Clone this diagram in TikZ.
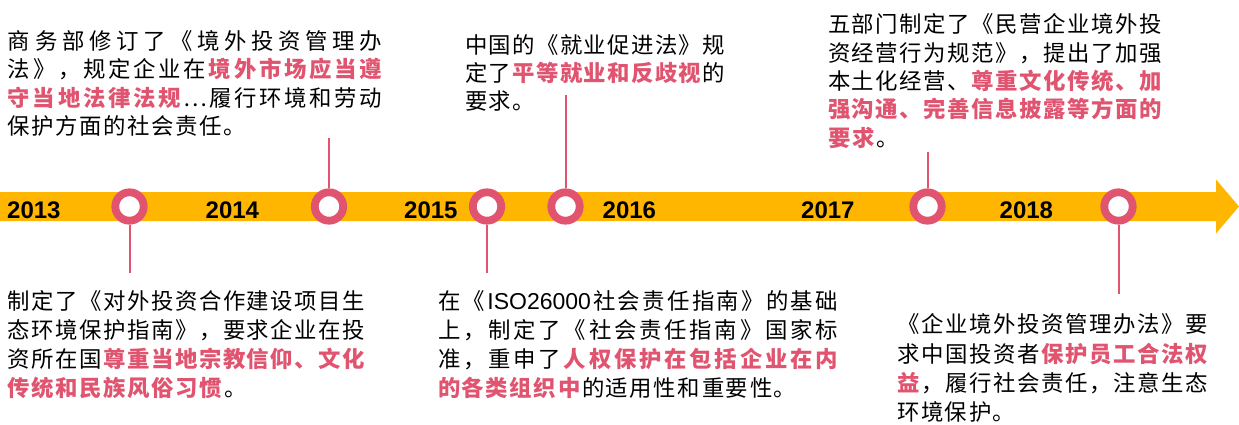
\documentclass[tikz,border=0pt]{standalone}
\usepackage{fontspec}
\setmainfont{Noto Sans CJK SC}
\newfontfamily\latinf{Liberation Sans}
\definecolor{pk}{RGB}{224,84,112}
\definecolor{orng}{RGB}{255,182,0}
\newskip\Jsk
\def\Jend{Jend-marker}
\def\PK{\color{pk}\bfseries}
\def\BK{\color{black}\mdseries}
\def\iso{{\latinf\fontsize{23pt}{28pt}\selectfont ISO26000}}
\def\J#1{\Jaux#1\Jend}
\def\Jaux#1{%
  \ifx#1\Jend \let\Jnext\relax
  \else
    \ifx#1\PK \PK
    \else \ifx#1\BK \BK
    \else #1\hskip\Jsk
    \fi\fi
    \let\Jnext\Jaux
  \fi\Jnext}
\newcommand\JL[2]{\hbox to #1{\Jsk=0pt plus 1fil\relax\J{#2}\unskip}}
\newcommand\NL[1]{\hbox{\Jsk=1.6pt\relax\J{#1}\unskip}}
\tikzset{
  tx/.style={anchor=base west, inner sep=0pt, outer sep=0pt, font=\fontsize{22.4pt}{28pt}\selectfont},
  yr/.style={anchor=base west, inner sep=0pt, font=\latinf\bfseries\fontsize{24pt}{24pt}\selectfont},
  ring/.style={circle, draw=pk, line width=7.8pt, fill=white, minimum size=28.4pt, inner sep=0pt},
  stem/.style={draw=pk, line width=2pt},
}
\begin{document}
\begin{tikzpicture}[x=1pt,y=-1pt]
\useasboundingbox (0,0) rectangle (1239,425);
% timeline arrow
\fill[orng] (0,192) -- (1216,192) -- (1216,179.5) -- (1239,206.5) -- (1216,233.5) -- (1216,221) -- (0,221) -- cycle;
% years
\node[yr] (y13) at (7,218) {2013};
\node[yr] (y14) at (205.5,218) {2014};
\node[yr] (y15) at (404,218) {2015};
\node[yr] (y16) at (602.5,218) {2016};
\node[yr] (y17) at (801,218) {2017};
\node[yr] (y18) at (999.5,218) {2018};
% stem ends
\coordinate (s1) at (129.5,273);
\coordinate (s2) at (329,138);
\coordinate (s3) at (487,273);
\coordinate (s4) at (565.5,95);
\coordinate (s5) at (927.5,152);
\coordinate (s6) at (1118.5,294);
% rings
\node[ring] (c1) at (129.5,206.5) {};
\node[ring] (c2) at (329,206.5) {};
\node[ring] (c3) at (487,206.5) {};
\node[ring] (c4) at (565.5,206.5) {};
\node[ring] (c5) at (927.5,206.5) {};
\node[ring] (c6) at (1118.5,206.5) {};
\draw[stem] (c1) -- (s1);
\draw[stem] (c2) -- (s2);
\draw[stem] (c3) -- (s3);
\draw[stem] (c4) -- (s4);
\draw[stem] (c5) -- (s5);
\draw[stem] (c6) -- (s6);
% block 1
\node[tx] (a1) at (8,49.5) {\JL{374pt}{商务部修订了《境外投资管理办}};
\node[tx] (a2) at (8,77.8) {\JL{374pt}{法》，规定企业在\PK 境外市场应当遵}};
\node[tx] (a3) at (8,106.1) {\JL{374pt}{\PK 守当地法律法规\BK …履行环境和劳动}};
\node[tx] (a4) at (8,134.5) {\NL{保护方面的社会责任。}};
% block 2
\node[tx] (b1) at (465,53.2) {\JL{260pt}{中国的《就业促进法》规}};
\node[tx] (b2) at (465,81.5) {\JL{260pt}{定了\PK 平等就业和反歧视\BK 的}};
\node[tx] (b3) at (465,109.8) {\NL{要求。}};
% block 3
\node[tx] (d1) at (828,32.7) {\JL{334pt}{五部门制定了《民营企业境外投}};
\node[tx] (d2) at (828,61.1) {\JL{334pt}{资经营行为规范》，提出了加强}};
\node[tx] (d3) at (828,89.5) {\JL{334pt}{本土化经营、\PK 尊重文化传统、加}};
\node[tx] (d4) at (828,117.9) {\JL{334pt}{\PK 强沟通、完善信息披露等方面的}};
\node[tx] (d5) at (828,146.3) {\NL{\PK 要求\BK 。}};
% block 4
\node[tx] (e1) at (8,309) {\JL{357pt}{制定了《对外投资合作建设项目生}};
\node[tx] (e2) at (8,338) {\JL{357pt}{态环境保护指南》，要求企业在投}};
\node[tx] (e3) at (8,367) {\JL{357pt}{资所在国\PK 尊重当地宗教信仰、文化}};
\node[tx] (e4) at (8,396) {\NL{\PK 传统和民族风俗习惯\BK 。}};
% block 5
\node[tx] (f1) at (438,309) {\JL{400pt}{在《\iso 社会责任指南》的基础}};
\node[tx] (f2) at (438,338.2) {\JL{400pt}{上，制定了《社会责任指南》国家标}};
\node[tx] (f3) at (438,367.5) {\JL{400pt}{准，重申了\PK 人权保护在包括企业在内}};
\node[tx] (f4) at (438,396.8) {\NL{\PK 的各类组织中\BK 的适用性和重要性。}};
% block 6
\node[tx] (g1) at (897,332.7) {\JL{311pt}{《企业境外投资管理办法》要}};
\node[tx] (g2) at (897,362.1) {\JL{311pt}{求中国投资者\PK 保护员工合法权}};
\node[tx] (g3) at (897,391.5) {\JL{311pt}{\PK 益\BK ，履行社会责任，注意生态}};
\node[tx] (g4) at (897,420.4) {\NL{环境保护。}};
\end{tikzpicture}
\end{document}
